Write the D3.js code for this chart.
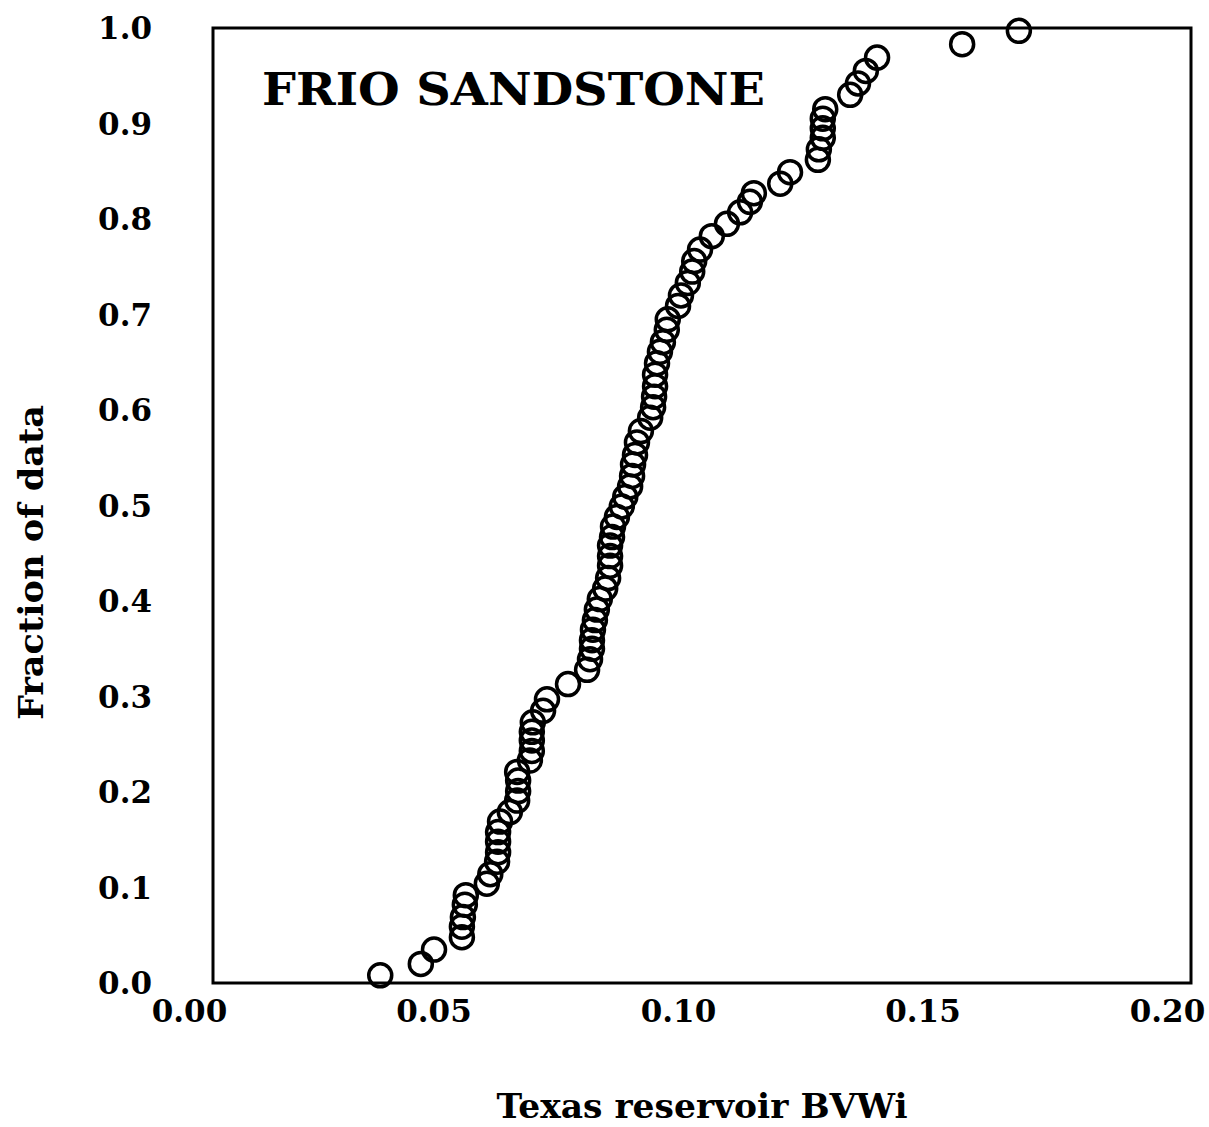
<!DOCTYPE html>
<html>
<head>
<meta charset="utf-8">
<script src="https://cdn.jsdelivr.net/npm/d3@7"></script>
<style>
  body { margin: 0; background: #fff; }
  text { font-family: "DejaVu Serif", serif; font-weight: bold; fill: #000; }
</style>
</head>
<body>
<svg id="svg" width="1209" height="1127"></svg>
<script>
// values (BVWi, cumulative fraction)
var bvwi = [
	0.0342, 0.0425, 0.0452, 0.0509, 0.0509, 0.0511, 0.0515, 0.0517,
	0.0560, 0.0567, 0.0581, 0.0583, 0.0583, 0.0583, 0.0587, 0.0607,
	0.0622, 0.0624, 0.0624, 0.0622, 0.0648, 0.0652, 0.0652, 0.0652,
	0.0654, 0.0675, 0.0683, 0.0726, 0.0765, 0.0771, 0.0775, 0.0775,
	0.0777, 0.0781, 0.0785, 0.0791, 0.0802, 0.0808, 0.0812, 0.0812,
	0.0812, 0.0816, 0.0818, 0.0826, 0.0836, 0.0843, 0.0853, 0.0857,
	0.0859, 0.0863, 0.0867, 0.0875, 0.0894, 0.0900, 0.0902, 0.0904,
	0.0904, 0.0908, 0.0914, 0.0920, 0.0928, 0.0930, 0.0951, 0.0957,
	0.0971, 0.0980, 0.0984, 0.0996, 0.1020, 0.1051, 0.1078, 0.1098,
	0.1106, 0.1160, 0.1180, 0.1237, 0.1239, 0.1247, 0.1247, 0.1247,
	0.1252, 0.1303, 0.1319, 0.1335, 0.1358, 0.1532, 0.1648
];
var fraction = [
	0.008, 0.020, 0.035, 0.048, 0.059, 0.069, 0.082, 0.092,
	0.104, 0.114, 0.127, 0.137, 0.148, 0.158, 0.169, 0.179,
	0.191, 0.201, 0.212, 0.221, 0.233, 0.243, 0.254, 0.263,
	0.273, 0.285, 0.297, 0.313, 0.328, 0.339, 0.350, 0.359,
	0.370, 0.380, 0.391, 0.402, 0.413, 0.424, 0.437, 0.447,
	0.458, 0.467, 0.478, 0.488, 0.499, 0.509, 0.520, 0.531,
	0.543, 0.553, 0.566, 0.578, 0.592, 0.603, 0.614, 0.625,
	0.637, 0.649, 0.661, 0.671, 0.684, 0.695, 0.709, 0.720,
	0.733, 0.745, 0.756, 0.768, 0.782, 0.795, 0.807, 0.818,
	0.827, 0.837, 0.849, 0.862, 0.873, 0.885, 0.895, 0.905,
	0.915, 0.930, 0.942, 0.955, 0.969, 0.983, 0.997
];
var xTicks = [0.00, 0.05, 0.10, 0.15, 0.20];
var yTicks = [0.0, 0.1, 0.2, 0.3, 0.4, 0.5, 0.6, 0.7, 0.8, 0.9, 1.0];

var svg = d3.select("svg"),
	margin = { top: 28, right: 18, bottom: 144, left: 213 },
	width = +svg.attr("width") - margin.left - margin.right,
	height = +svg.attr("height") - margin.top - margin.bottom;

var x = d3.scaleLinear().domain([0, 0.2]).range([0, width]);
var y = d3.scaleLinear().domain([0, 1]).range([height, 0]);

var g = svg.append("g")
	.attr("transform", "translate(" + margin.left + "," + margin.top + ")");

// frame
g.append("rect")
	.attr("x", 0).attr("y", 0)
	.attr("width", width).attr("height", height)
	.style("fill", "none")
	.style("stroke", "#000")
	.style("stroke-width", 3);

// tick labels only, no tick marks
var xAxis = g.append("g")
	.attr("transform", "translate(0," + height + ")")
	.call(d3.axisBottom(x).tickValues(xTicks).tickFormat(d3.format(".2f")).tickSize(0));
xAxis.select(".domain").remove();
xAxis.selectAll("text")
	.attr("dx", -24)
	.attr("dy", 36)
	.style("font-family", "DejaVu Serif")
	.style("font-weight", "bold")
	.style("font-size", "31px");

var yAxis = g.append("g")
	.call(d3.axisLeft(y).tickValues(yTicks).tickFormat(d3.format(".1f")).tickSize(0));
yAxis.select(".domain").remove();
yAxis.selectAll("text")
	.attr("x", -61)
	.attr("dy", "0.35em")
	.style("font-family", "DejaVu Serif")
	.style("font-weight", "bold")
	.style("font-size", "31px");

// points
var pts = bvwi.map(function (d, i) { return { x: d, y: fraction[i] }; });
g.append("g")
	.selectAll("circle")
	.data(pts)
	.enter().append("circle")
	.attr("cx", function (d) { return x(d.x); })
	.attr("cy", function (d) { return y(d.y); })
	.attr("r", 11.5)
	.style("fill", "none")
	.style("stroke", "#000")
	.style("stroke-width", 3.5);

// title inside the frame
g.append("text")
	.attr("x", 49)
	.attr("y", 77)
	.attr("textLength", 503)
	.attr("lengthAdjust", "spacingAndGlyphs")
	.style("font-size", "45px")
	.text("FRIO  SANDSTONE");

svg.append("text")
	.attr("x", margin.left + width / 2)
	.attr("y", 1118)
	.attr("text-anchor", "middle")
	.attr("textLength", 411)
	.attr("lengthAdjust", "spacingAndGlyphs")
	.style("font-size", "33px")
	.text("Texas reservoir BVWi");

svg.append("text")
	.attr("transform", "translate(43," + (margin.top + height / 2 + 57) + ") rotate(-90)")
	.attr("text-anchor", "middle")
	.attr("textLength", 315)
	.attr("lengthAdjust", "spacingAndGlyphs")
	.style("font-size", "33px")
	.text("Fraction of data");
</script>
</body>
</html>
